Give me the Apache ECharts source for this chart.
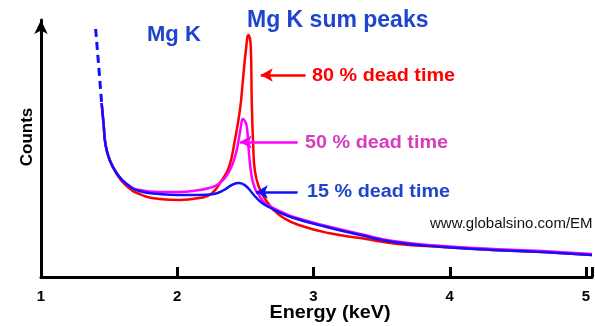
<!DOCTYPE html>
<html>
<head>
<meta charset="utf-8">
<script src="https://cdn.jsdelivr.net/npm/echarts@6/dist/echarts.min.js"></script>
<style>
  html, body { margin: 0; padding: 0; background: #fff; }
  #main { width: 595px; height: 326px; }
</style>
</head>
<body>
<div id="main"></div>
<script>
// spectra (energy in keV, counts in arbitrary units)
var xTicks = [1, 2, 3, 4, 5];

var energyTail = [1.401, 1.412, 1.423, 1.434, 1.445];
var countsTail = [248, 230, 212, 193, 174];

var energy15 = [1.445,1.46,1.474,1.504,1.555,1.628,1.723,1.869,2.015,2.161,2.27,2.343,2.401,2.453,2.504,2.562,2.613,2.672,2.745,2.854,3.095,3.343,3.584,3.949,4.314,4.679,5.044];
var counts15 = [174,152,132,117,104,93,86,83,82,82,83,87,92,94,91,82,75,70,65,59,50,42,35,30,27,25,22];

var energy50 = [1.445,1.46,1.474,1.504,1.555,1.628,1.723,1.869,2.015,2.161,2.234,2.292,2.35,2.394,2.431,2.453,2.467,2.482,2.496,2.511,2.526,2.547,2.569,2.599,2.642,2.693,2.781,2.854,3.095,3.343,3.584,3.949,4.314,4.679,5.044];
var counts50 = [174,152,132,117,104,93,87,85,85,87,89,92,99,109,124,139,150,158,156,150,124,100,89,82,74,70,64,60,51,43,36,31,28,26,23];

var energy80 = [1.445,1.46,1.474,1.504,1.555,1.628,1.723,1.869,2.015,2.161,2.248,2.328,2.38,2.423,2.46,2.482,2.504,2.522,2.54,2.547,2.558,2.569,2.599,2.65,2.708,2.781,2.891,3.109,3.343,3.62,3.949,4.314,4.679,5.044];
var counts80 = [174,152,132,117,103,91,83,78,77,79,83,97,110,137,167,197,227,242,230,175,130,107,90,77,67,59,52,44,39,33,30,27,25,22];

// arrows: [from keV, to keV, counts]
var arrow80 = [2.942, 2.613, 202];
var arrow50 = [2.883, 2.46, 135];
var arrow15 = [2.883, 2.577, 85];

var RED = '#ff0000', PINK = '#ff00ff', BLUE = '#1010ff';
var FONT = '"Liberation Sans", Arial, sans-serif';

function pairs(xs, ys) {
  return xs.map(function (x, i) { return [x, ys[i]]; });
}

function arrowLine(a, color) {
  return {
    silent: true,
    symbol: ['none', 'arrow'],
    symbolSize: [10, 12],
    label: { show: false },
    lineStyle: { color: color, width: 2.5, type: 'solid' },
    data: [[{ coord: [a[0], a[2]] }, { coord: [a[1], a[2]] }]]
  };
}

function spectrum(name, xs, ys, color, arrow) {
  return {
    name: name,
    type: 'line',
    data: pairs(xs, ys),
    showSymbol: false,
    smooth: 0.5,
    lineStyle: { color: color, width: 2.5 },
    markLine: arrowLine(arrow, color),
    z: 3
  };
}

var chartDom = document.getElementById('main');
var myChart = echarts.init(chartDom, null, { renderer: 'canvas' });

var option = {
  backgroundColor: '#ffffff',
  animation: false,
  grid: { left: 41, right: 0, top: 20, bottom: 49 },
  xAxis: {
    type: 'value',
    min: 1,
    max: 5.044,
    interval: 1,
    axisLine: { show: true, lineStyle: { color: '#000', width: 3 } },
    axisTick: { show: true, inside: true, length: 10, lineStyle: { color: '#000', width: 3 } },
    axisLabel: {
      color: '#000', fontSize: 15, fontWeight: 'bold', fontFamily: FONT, margin: 12,
      formatter: function (v) { return xTicks.indexOf(v) >= 0 ? String(v) : ''; }
    },
    splitLine: { show: false }
  },
  yAxis: {
    type: 'value',
    min: 0,
    max: 257,
    axisLine: {
      show: true,
      symbol: ['none', 'arrow'],
      symbolSize: [10, 14],
      lineStyle: { color: '#000', width: 3 }
    },
    axisTick: { show: false },
    axisLabel: { show: false },
    splitLine: { show: false }
  },
  series: [
    spectrum('80 % dead time', energy80, counts80, RED, arrow80),
    spectrum('50 % dead time', energy50, counts50, PINK, arrow50),
    spectrum('15 % dead time', energy15, counts15, BLUE, arrow15),
    {
      name: 'tail',
      type: 'line',
      data: pairs(energyTail, countsTail),
      showSymbol: false,
      lineStyle: { color: BLUE, width: 3, type: [8, 5] },
      z: 3
    }
  ],
  graphic: [
    { type: 'text', left: 147, top: 24, style: { text: 'Mg K', fill: '#1f45cc', font: 'bold 22px ' + FONT } },
    { type: 'text', left: 247, top: 9, style: { text: 'Mg K sum peaks', fill: '#1f45cc', font: 'bold 23px ' + FONT } },
    { type: 'text', x: 312, y: 76, scaleX: 1.1, style: { text: '80 % dead time', fill: '#ff0000', font: 'bold 18px ' + FONT, verticalAlign: 'middle' } },
    { type: 'text', x: 305, y: 143, scaleX: 1.1, style: { text: '50 % dead time', fill: '#d63cbc', font: 'bold 18px ' + FONT, verticalAlign: 'middle' } },
    { type: 'text', x: 307, y: 192, scaleX: 1.1, style: { text: '15 % dead time', fill: '#1f45cc', font: 'bold 18px ' + FONT, verticalAlign: 'middle' } },
    { type: 'text', x: 430, y: 224, style: { text: 'www.globalsino.com/EM', fill: '#111', font: '15px ' + FONT, verticalAlign: 'middle' } },
    { type: 'text', x: 27, y: 137, rotation: Math.PI / 2, style: { text: 'Counts', fill: '#000', font: 'bold 17px ' + FONT, align: 'center', verticalAlign: 'middle' } },
    { type: 'text', x: 330, y: 313, scaleX: 1.1, style: { text: 'Energy (keV)', fill: '#000', font: 'bold 18px ' + FONT, align: 'center', verticalAlign: 'middle' } }
  ]
};

option && myChart.setOption(option, true);
window.onresize = function () {
  myChart.resize();
};
</script>
</body>
</html>
